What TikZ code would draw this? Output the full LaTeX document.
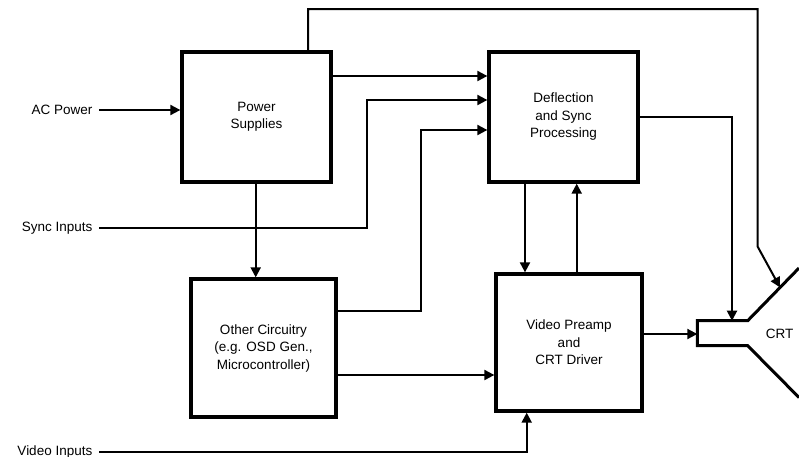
\documentclass[tikz,border=0pt]{standalone}
\usepackage{fontspec}
\setmainfont{Liberation Sans}
\usetikzlibrary{arrows.meta}
\begin{document}
\begin{tikzpicture}[x=1pt,y=-1pt,
  blk/.style={draw, line width=3.3pt, inner sep=0pt, align=center,
    font=\fontsize{13.5}{17.5}\selectfont},
  conn/.style={line width=2pt},
  arr/.style={conn, -{Triangle[length=10pt,width=10pt]}},
  lbl/.style={anchor=east, inner sep=0pt, font=\fontsize{13.5}{17.5}\selectfont}
]
\clip (0,0) rectangle (799,456);
\useasboundingbox (0,0) rectangle (799,456);

% blocks
\node[blk, minimum width=149pt, minimum height=130pt] (ps) at (256.5,117) {Power\\Supplies};
\node[blk, minimum width=149pt, minimum height=130pt] (defl) at (563.5,117) {Deflection\\and Sync\\Processing};
\node[blk, minimum width=145pt, minimum height=138pt] (other) at (263.5,348) {Other Circuitry\\(e.g. OSD Gen.,\\Microcontroller)};
\node[blk, minimum width=146pt, minimum height=137pt] (video) at (569,342.5) {Video Preamp\\and\\CRT Driver};

% CRT
\coordinate (crtTR) at (799,268);
\coordinate (nTR) at (747.7,320.7);
\coordinate (nTL) at (697.3,320.7);
\coordinate (nBL) at (697.3,345.7);
\coordinate (nBR) at (747.7,345.7);
\coordinate (crtBR) at (799,397.5);
\draw[line width=3pt, line join=miter] (crtTR) -- (nTR) -- (nTL) -- (nBL) -- (nBR) -- (crtBR);
\node[inner sep=0pt, font=\fontsize{13.5}{17.5}\selectfont] (crt) at (779.5,334) {CRT};
\coordinate (flarept) at (780,287.4);

% inputs
\coordinate (acin) at (99,110);
\coordinate (syncin) at (99,228.3);
\coordinate (vidin) at (99,451.7);
\node[lbl] (aclbl) at (92.5,110) {AC Power};
\node[lbl] (synclbl) at (92.5,228.3) {Sync Inputs};
\node[lbl] (vidlbl) at (92.5,451.7) {Video Inputs};

\draw[arr] (acin) -- (acin -| ps.west);

% power supplies top line to CRT flare
\coordinate (pstop) at (308,9);
\coordinate (rtop) at (757.7,9);
\coordinate (rbend) at (757.7,246.7);
\draw[arr, line join=miter] (pstop |- ps.north) -- (pstop) -- (rtop) -- (rbend) -- (flarept);

% power supplies to deflection
\coordinate (p76) at (331,76);
\draw[arr] (ps.east |- p76) -- (defl.west |- p76);

% sync inputs to deflection
\coordinate (sbend) at (366.7,228.3);
\coordinate (stop) at (366.7,100);
\draw[arr, line join=miter] (syncin) -- (sbend) -- (stop) -- (defl.west |- stop);

% other circuitry to deflection
\coordinate (o1) at (421,311);
\coordinate (o2) at (421,130);
\draw[arr, line join=miter] (other.east |- o1) -- (o1) -- (o2) -- (defl.west |- o2);

% power supplies to other
\coordinate (psx) at (255.7,182);
\draw[arr] (psx |- ps.south) -- (psx |- other.north);

% other to video
\coordinate (o3) at (336,375);
\draw[arr] (other.east |- o3) -- (video.west |- o3);

% video inputs
\coordinate (vbend) at (526.7,451.7);
\draw[arr, line join=miter] (vidin) -- (vbend) -- (vbend |- video.south);

% deflection <-> video
\coordinate (dvx) at (525,200);
\coordinate (vdx) at (576.7,200);
\draw[arr] (dvx |- defl.south) -- (dvx |- video.north);
\draw[arr] (vdx |- video.north) -- (vdx |- defl.south);

% deflection to CRT neck
\coordinate (d1) at (732,116.7);
\draw[arr, line join=miter] (defl.east |- d1) -- (d1) -- (d1 |- nTR);

% video to CRT
\coordinate (v1) at (642,334);
\draw[arr] (video.east |- v1) -- (nTL |- v1);
\end{tikzpicture}
\end{document}
